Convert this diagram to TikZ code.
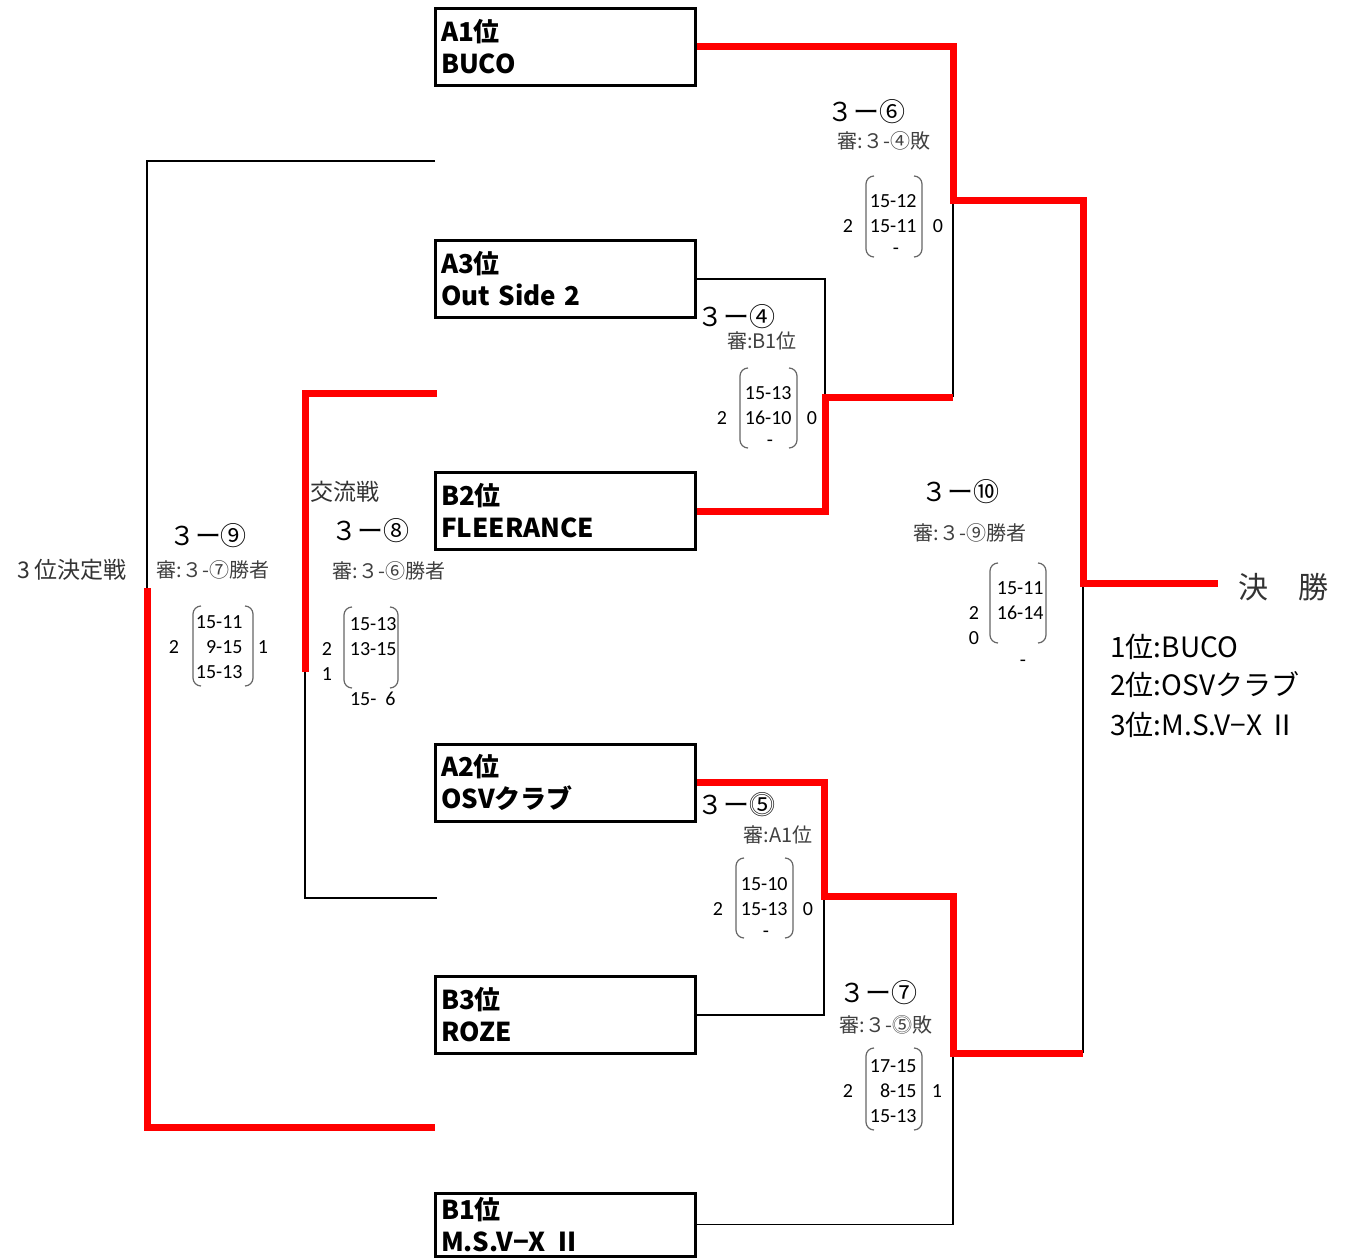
\documentclass[tikz,border=0pt]{standalone}
\usepackage{fontspec}
\newfontfamily\jpfont{Noto Sans CJK JP}
\newfontfamily\calfont{Carlito}

\newcommand{\pbox}[4]{%
  \draw[paren] (#1+8,#3) -- (#1,#3) -- (#1,#4) -- (#1+8,#4);
  \draw[paren] (#2-8,#3) -- (#2,#3) -- (#2,#4) -- (#2-8,#4);}

\begin{document}
\begin{tikzpicture}[x=0.5pt,y=-0.5pt,
    team/.style={draw,line width=1.5pt,minimum width=130pt,minimum height=38.5pt,
      text width=124pt,inner xsep=3pt,inner ysep=0pt,align=left,
      font=\jpfont\bfseries\fontsize{13}{16}\selectfont},
    win/.style={red,line width=3.5pt},
    lose/.style={black,line width=0.75pt},
    title/.style={font=\jpfont\fontsize{13}{13}\selectfont,inner sep=0pt},
    umpire/.style={font=\jpfont\fontsize{10}{10}\selectfont,text=black!75,inner sep=0pt},
    pt/.style={font=\calfont\fontsize{10}{10}\selectfont,inner sep=0pt},
    side/.style={font=\jpfont\fontsize{11.5}{11.5}\selectfont,text=black!80,inner sep=0pt},
    paren/.style={black!60,line width=0.6pt,rounded corners=4pt}]
  \useasboundingbox (0,0) rectangle (1346,1258);

  \node[team] (A1) at (565,46.5) {A1位\\BUCO};
  \node[team] (A3) at (565,279) {A3位\\Out Side 2};
  \node[team] (B2) at (565,511) {B2位\\FLEERANCE};
  \node[team] (A2) at (565,782.5) {A2位\\OSVクラブ};
  \node[team] (B3) at (565,1015) {B3位\\ROZE};
  \node[team,minimum height=31.5pt] (B1) at (565,1224.5) {B1位\\M.S.V−X Ⅱ};

  \coordinate (c4) at (825,397);
  \coordinate (c6) at (953,200);
  \coordinate (c5) at (824,896);
  \coordinate (c7) at (953,1053);
  \coordinate (c10) at (1083,583);
  \coordinate (fin) at (1218,583);
  \coordinate (c8) at (305,672);
  \coordinate (t8) at (437,393);
  \coordinate (b8) at (437,898);
  \coordinate (c9) at (147,588);
  \coordinate (t9) at (435,161);
  \coordinate (b9) at (435,1127);

  \draw[lose] (A3.east) -| (c4);
  \draw[lose] (c6 |- c4) -- (c6);
  \draw[lose] (B3.east) -| (c5);
  \draw[lose] (B1.east) -| (c7);
  \draw[lose] (c10 |- c7) -- (c10);
  \draw[lose] (c8) |- (b8);
  \draw[lose] (t9) -| (c9);

  \draw[win] (A1.east) -| (c6) -| (c10) -- (fin);
  \draw[win] (B2.east) -| (c4) -- (c6 |- c4);
  \draw[win] (A2.east) -| (c5) -| (c7) -- (c10 |- c7);
  \draw[win] (t8) -| (c8);
  \draw[win] (c9) |- (b9);

  % 3-6
  \node[title] (m6) at (866,112) {３ー⑥};
  \node[umpire] (u6) at (884,141) {審:３-④敗};
  \pbox{866}{922}{176}{257}
  \node[pt,anchor=east] (s6a) at (917,201) {15-12};
  \node[pt,anchor=east] (s6b) at (917,226) {15-11};
  \node[pt] (s6c) at (896,251) {-};
  \node[pt] (w6) at (848,226) {2};
  \node[pt] (l6) at (938,226) {0};

  % 3-4
  \node[title] (m4) at (736,317) {３ー④};
  \node[umpire] (u4) at (762,341) {審:B1位};
  \pbox{740}{797}{368}{448}
  \node[pt,anchor=east] (s4a) at (792,393) {15-13};
  \node[pt,anchor=east] (s4b) at (792,418) {16-10};
  \node[pt] (s4c) at (770,443) {-};
  \node[pt] (w4) at (722,418) {2};
  \node[pt] (l4) at (812,418) {0};

  % 3-8
  \node[side] (xc) at (345,492) {交流戦};
  \node[title] (m8) at (370,531) {３ー⑧};
  \node[umpire] (u8) at (389,571) {審:３-⑥勝者};
  \pbox{344}{398}{607}{688}
  \node[pt,anchor=east] (s8a) at (397,624) {15-13};
  \node[pt,anchor=east] (s8b) at (397,649) {13-15};
  \node[pt,anchor=east] (s8c) at (396,699) {15-\ \ 6};
  \node[pt] (w8) at (327,649) {2};
  \node[pt] (l8) at (327,674) {1};

  % 3-9
  \node[side] (xd) at (72,570) {3 位決定戦};
  \node[title] (m9) at (208,536) {３ー⑨};
  \node[umpire] (u9) at (213,570) {審:３-⑦勝者};
  \pbox{193}{253}{606}{686}
  \node[pt,anchor=east] (s9a) at (243,622) {15-11};
  \node[pt,anchor=east] (s9b) at (243,647) {9-15};
  \node[pt,anchor=east] (s9c) at (243,672) {15-13};
  \node[pt] (w9) at (174,647) {2};
  \node[pt] (l9) at (263,647) {1};

  % 3-10
  \node[title] (m10) at (960,492) {３ー⑩};
  \node[umpire] (u10) at (970,533) {審:３-⑨勝者};
  \pbox{990}{1046}{563}{643}
  \node[pt,anchor=east] (s10a) at (1044,588) {15-11};
  \node[pt,anchor=east] (s10b) at (1044,613) {16-14};
  \node[pt] (s10c) at (1023,663) {-};
  \node[pt] (w10) at (974,613) {2};
  \node[pt] (l10) at (974,638) {0};

  % 3-5
  \node[title] (m5) at (736,805) {３ー⓹};
  \node[umpire] (u5) at (778,835) {審:A1位};
  \pbox{736}{793}{858}{938}
  \node[pt,anchor=east] (s5a) at (788,884) {15-10};
  \node[pt,anchor=east] (s5b) at (788,909) {15-13};
  \node[pt] (s5c) at (766,934) {-};
  \node[pt] (w5) at (718,909) {2};
  \node[pt] (l5) at (808,909) {0};

  % 3-7
  \node[title] (m7) at (878,993) {３ー⑦};
  \node[umpire] (u7) at (886,1025) {審:３-⓹敗};
  \pbox{866}{922}{1048}{1130}
  \node[pt,anchor=east] (s7a) at (917,1066) {17-15};
  \node[pt,anchor=east] (s7b) at (917,1091) {8-15};
  \node[pt,anchor=east] (s7c) at (917,1116) {15-13};
  \node[pt] (w7) at (848,1091) {2};
  \node[pt] (l7) at (937,1091) {1};

  \node[side,font=\jpfont\fontsize{15}{15}\selectfont] (fn) at (1283,587) {決\quad 勝};
  \node[anchor=west,inner sep=0pt,font=\jpfont\fontsize{14}{14}\selectfont] (r1) at (1110,647) {1位:BUCO};
  \node[anchor=west,inner sep=0pt,font=\jpfont\fontsize{14}{14}\selectfont] (r2) at (1110,685) {2位:OSVクラブ};
  \node[anchor=west,inner sep=0pt,font=\jpfont\fontsize{14}{14}\selectfont] (r3) at (1110,725) {3位:M.S.V−X Ⅱ};
\end{tikzpicture}
\end{document}
